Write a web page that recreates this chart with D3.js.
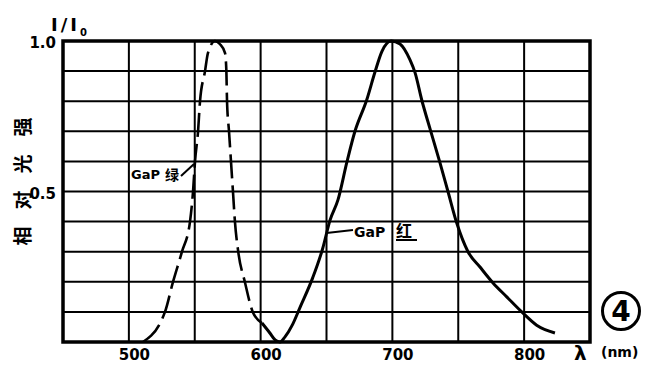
<!DOCTYPE html>
<html><head><meta charset="utf-8">
<script src="https://cdn.jsdelivr.net/npm/d3@7/dist/d3.min.js"></script>
<style>
html,body{margin:0;padding:0;background:#fff;}
svg{display:block;}
text{font-family:"DejaVu Sans",sans-serif;fill:#000;}
.cjk{font-family:"Noto Sans CJK SC",sans-serif;font-weight:bold;}
</style></head>
<body>
<svg id="c" width="650" height="389"></svg>
<script>
// ---- data ----
const xTicks = [500, 600, 700, 800];
const xGrid = [500, 550, 600, 650, 700, 750, 800];
const yTicks = [0.5, 1.0];
const yGrid = [0.1, 0.2, 0.3, 0.4, 0.5, 0.6, 0.7, 0.8, 0.9];
const greenNm  = [510.7, 527.4, 533.5, 540.3, 546.4, 548.7, 550.2, 552.5, 554, 557.8, 560, 565.4, 569, 573, 574, 574.5, 576, 577.5, 579, 580.5, 583, 588, 594, 601];
const greenVal = [0, 0.1, 0.2, 0.3, 0.4, 0.5, 0.6, 0.7, 0.8, 0.9, 0.96, 1.0, 0.99, 0.96, 0.9, 0.8, 0.7, 0.6, 0.5, 0.4, 0.3, 0.2, 0.1, 0.063];
const redNm  = [601, 607, 611, 614.7, 618.5, 624, 630, 639.5, 647, 652.7, 658.7, 665.6, 671.6, 680.5, 686.8, 692, 699, 705.8, 713.4, 717.2, 722.3, 728.6, 736.1, 742.2, 748.8, 757.4, 766.5, 776.4, 786.8, 798.2, 809.5, 823.4];
const redVal = [0.063, 0.03, 0.007, 0, 0.017, 0.056, 0.116, 0.213, 0.309, 0.405, 0.472, 0.6, 0.7, 0.804, 0.897, 0.965, 1.0, 0.99, 0.937, 0.895, 0.804, 0.708, 0.596, 0.5, 0.396, 0.3, 0.249, 0.196, 0.15, 0.1, 0.056, 0.03];

// ---- chart ----
const svg = d3.select("#c");
const x = d3.scaleLinear().domain([450, 850]).range([63, 590]);
const y = d3.scaleLinear().domain([0, 1]).range([342, 41]);

// grid
svg.append("g").selectAll("line").data(xGrid).join("line")
  .attr("x1", d => x(d)).attr("x2", d => x(d))
  .attr("y1", y(1)).attr("y2", y(0))
  .attr("stroke", "#000").attr("stroke-width", 2);
svg.append("g").selectAll("line").data(yGrid).join("line")
  .attr("x1", x(450)).attr("x2", x(850))
  .attr("y1", d => y(d)).attr("y2", d => y(d))
  .attr("stroke", "#000").attr("stroke-width", 2);
// frame
svg.append("rect").attr("x", x(450)).attr("y", y(1))
  .attr("width", x(850) - x(450)).attr("height", y(0) - y(1))
  .attr("fill", "none").attr("stroke", "#000").attr("stroke-width", 3.5);

// axes labels
const xa = svg.append("g").attr("transform", `translate(0,${y(0)})`)
  .call(d3.axisBottom(x).tickValues(xTicks).tickSize(0).tickPadding(7).tickFormat(d3.format("d")));
xa.select(".domain").remove();
xa.selectAll("text").attr("dx", 5).style("font-size", "15px").style("font-family", "DejaVu Sans").attr("font-weight", "bold");

const ya = svg.append("g").attr("transform", `translate(${x(450) - 1},0)`)
  .call(d3.axisLeft(y).tickValues(yTicks).tickSize(0).tickPadding(6).tickFormat(d3.format(".1f")));
ya.select(".domain").remove();
ya.selectAll("text").attr("dy", "0.45em").style("font-size", "15px").style("font-family", "DejaVu Sans").attr("font-weight", "bold");

// curves
const line = d3.line().x(d => x(d[0])).y(d => y(d[1])).curve(d3.curveMonotoneX);
svg.append("path").datum(greenNm.map((d, i) => [d, greenVal[i]]))
  .attr("d", line).attr("fill", "none").attr("stroke", "#000")
  .attr("stroke-width", 2.6).attr("stroke-dasharray", "24,7");
svg.append("path").datum(redNm.map((d, i) => [d, redVal[i]]))
  .attr("d", line).attr("fill", "none").attr("stroke", "#000")
  .attr("stroke-width", 3);

// axis titles
const it = svg.append("text").attr("x", 51).attr("y", 31).style("font-size", "18px").attr("font-weight", "bold");
it.append("tspan").style("letter-spacing", "3px").text("I/I");
it.append("tspan").attr("dy", 5).style("font-size", "10px").text("0");
const yl = ["相", "对", "光", "强"];
const yc = [236, 200, 164, 127];
yl.forEach((c, i) => {
  svg.append("text").attr("class", "cjk")
    .attr("transform", `translate(23,${yc[i]}) rotate(-90)`)
    .attr("text-anchor", "middle").attr("dy", "0.36em")
    .style("font-size", "19px").text(c);
});
svg.append("text").attr("x", 574).attr("y", 360).style("font-size", "20px").attr("font-weight", "bold").text("λ");
svg.append("text").attr("x", 601).attr("y", 357).style("font-size", "14px").attr("font-weight", "bold").text("(nm)");

// series labels
svg.append("text").attr("x", 131).attr("y", 179).style("font-size", "13px").attr("font-weight", "bold").text("GaP");
svg.append("text").attr("class", "cjk").attr("x", 165).attr("y", 180).style("font-size", "14px").text("绿");
svg.append("line").attr("x1", 181).attr("y1", 176).attr("x2", 194).attr("y2", 164).attr("stroke", "#000").attr("stroke-width", 2);

svg.append("line").attr("x1", x(650)).attr("y1", 233).attr("x2", 353).attr("y2", 230).attr("stroke", "#000").attr("stroke-width", 1.8);
svg.append("text").attr("x", 354).attr("y", 237).style("font-size", "14px").attr("font-weight", "bold").text("GaP");
svg.append("text").attr("class", "cjk").attr("x", 396).attr("y", 237).style("font-size", "16px").text("红");
svg.append("line").attr("x1", 396).attr("y1", 240).attr("x2", 417).attr("y2", 240).attr("stroke", "#000").attr("stroke-width", 2);

// circled number
svg.append("circle").attr("cx", 621).attr("cy", 311).attr("r", 18.5).attr("fill", "none").attr("stroke", "#000").attr("stroke-width", 3);
svg.append("text").attr("x", 621).attr("y", 321).attr("text-anchor", "middle").style("font-size", "28px").attr("font-weight", "bold").text("4");
</script>
</body></html>
